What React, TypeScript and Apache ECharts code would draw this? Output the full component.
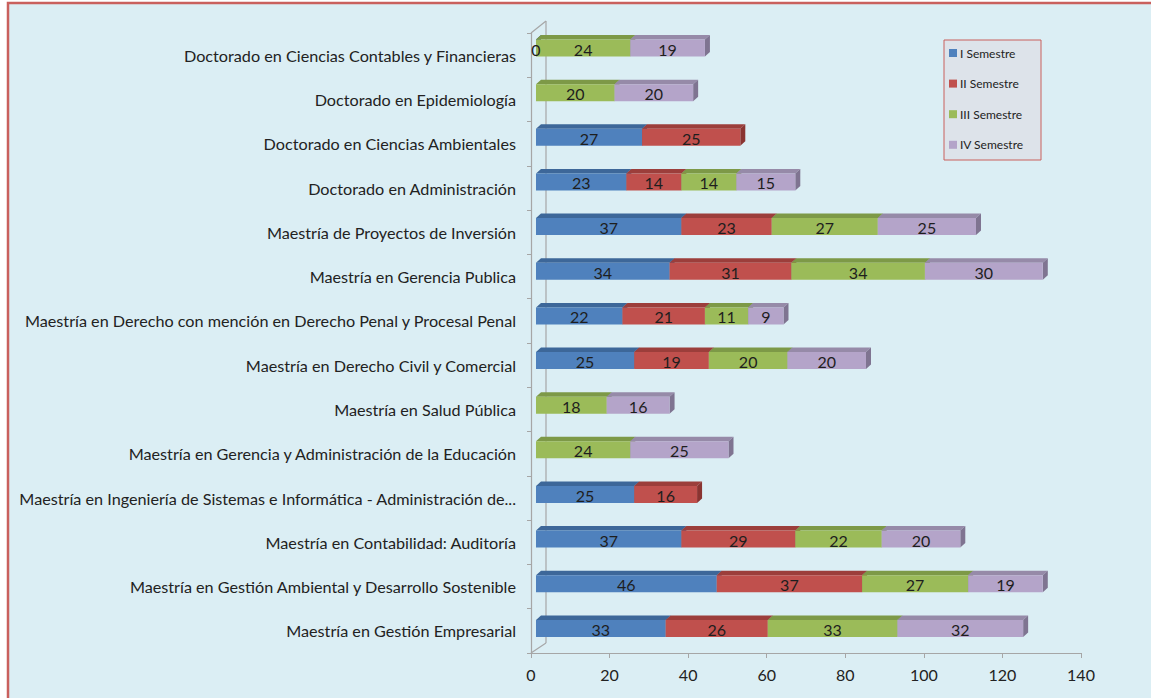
import React, { useEffect, useRef } from "react";
import * as echarts from "echarts";

const categories = [
  "Maestría en Gestión Empresarial",
  "Maestría en Gestión Ambiental y Desarrollo Sostenible",
  "Maestría en Contabilidad: Auditoría",
  "Maestría en Ingeniería de Sistemas e Informática - Administración de...",
  "Maestría en Gerencia y Administración de la Educación",
  "Maestría en Salud Pública",
  "Maestría en Derecho Civil y Comercial",
  "Maestría en Derecho con mención en Derecho Penal y Procesal Penal",
  "Maestría en Gerencia Publica",
  "Maestría de Proyectos de Inversión",
  "Doctorado en Administración",
  "Doctorado en Ciencias Ambientales",
  "Doctorado en Epidemiología",
  "Doctorado en Ciencias Contables y Financieras",
];

const seriesNames = ["I Semestre", "II Semestre", "III Semestre", "IV Semestre"];
const sem1 = [33, 46, 37, 25, null, null, 25, 22, 34, 37, 23, 27, null, 0];
const sem2 = [26, 37, 29, 16, null, null, 19, 21, 31, 23, 14, 25, null, null];
const sem3 = [33, 27, 22, null, 24, 18, 20, 11, 34, 27, 14, null, 20, 24];
const sem4 = [32, 19, 20, null, 25, 16, 20, 9, 30, 25, 15, null, 20, 19];
const xTicks = { min: 0, max: 140, interval: 20 };

const frontColors = ["#4f81bd", "#c0504d", "#9bbb59", "#b4a4c9"];
const topColors = ["#3d6799", "#9c3e3b", "#7d9947", "#968aa8"];
const sideColors = ["#34598a", "#8a3431", "#6d873c", "#7f7491"];

const FONT = "Lato, 'Open Sans', sans-serif";

export default function App() {
  const ref = useRef<HTMLDivElement>(null);

  useEffect(() => {
    if (!ref.current) return;
    const chart = echarts.init(ref.current, undefined, { renderer: "svg" });

    const allSems = [sem1, sem2, sem3, sem4];
    const base = categories.map(() => 0);
    const stacked = allSems.map((arr) => {
      const out: any[] = [];
      arr.forEach((v, i) => {
        if (v === null || v === undefined) return;
        const s = base[i];
        const e = s + v;
        base[i] = e;
        out.push([i, s, e, v]);
      });
      return out;
    });

    const DX = 5;
    const DY = 4.5;
    const H = 17;

    const makeRender = (si: number) => (params: any, api: any) => {
      const cat = api.value(0);
      const start = api.value(1);
      const end = api.value(2);
      const val = api.value(3);
      const p0 = api.coord([start, cat]);
      const p1 = api.coord([end, cat]);
      const x0 = p0[0];
      const x1 = p1[0];
      const top = p0[1] - H / 2;
      const bot = p0[1] + H / 2;
      return {
        type: "group",
        children: [
          {
            type: "polygon",
            shape: {
              points: [
                [x0, top],
                [x0 + DX, top - DY],
                [x1 + DX, top - DY],
                [x1, top],
              ],
            },
            style: { fill: topColors[si] },
          },
          {
            type: "polygon",
            shape: {
              points: [
                [x1, top],
                [x1 + DX, top - DY],
                [x1 + DX, bot - DY],
                [x1, bot],
              ],
            },
            style: { fill: sideColors[si] },
          },
          {
            type: "rect",
            shape: { x: x0, y: top, width: x1 - x0, height: H },
            style: { fill: frontColors[si] },
          },
          {
            type: "text",
            style: {
              text: String(val),
              x: (x0 + x1) / 2,
              y: (top + bot) / 2 + 1,
              align: "center",
              verticalAlign: "middle",
              fill: "#1e1e1e",
              font: `16px ${FONT}`,
            },
            z2: 10,
          },
        ],
      };
    };

    const lineStyle = { stroke: "#a6a6a6", lineWidth: 1.2 };

    chart.setOption({
      animation: false,
      textStyle: { fontFamily: FONT },
      grid: [
        { left: 531, top: 33, width: 550, height: 620, containLabel: false },
        { left: 536, top: 25.7, width: 550, height: 625, containLabel: false },
      ],
      xAxis: [
        {
          type: "value",
          gridIndex: 0,
          min: xTicks.min,
          max: xTicks.max,
          interval: xTicks.interval,
          axisLine: { show: true, lineStyle: { color: "#a6a6a6", width: 1.2 } },
          axisTick: { show: true, length: 5, lineStyle: { color: "#a6a6a6" } },
          splitLine: { show: false },
          axisLabel: { color: "#222", fontSize: 16, margin: 13, fontFamily: FONT },
        },
        {
          type: "value",
          gridIndex: 1,
          min: xTicks.min,
          max: xTicks.max,
          show: false,
        },
      ],
      yAxis: [
        {
          type: "category",
          gridIndex: 0,
          data: categories,
          axisLine: { show: true, lineStyle: { color: "#a6a6a6", width: 1.2 } },
          axisTick: { show: true, length: 4, lineStyle: { color: "#a6a6a6" } },
          axisLabel: { color: "#222", fontSize: 16.2, margin: 15, fontFamily: FONT },
        },
        {
          type: "category",
          gridIndex: 1,
          data: categories,
          show: false,
        },
      ],
      legend: {
        show: true,
        orient: "vertical",
        left: 944,
        top: 40,
        padding: [6, 6, 6, 5],
        itemWidth: 8,
        itemHeight: 8,
        itemGap: 16.6,
        icon: "rect",
        data: seriesNames,
        textStyle: { fontSize: 12, color: "#222", lineHeight: 14, fontFamily: FONT, padding: [0, 0, 0, -2] },
      },
      graphic: [
        {
          type: "rect",
          z: -100,
          silent: true,
          shape: { x: 8, y: 3, width: 1170, height: 730 },
          style: { fill: "#dbeef4", stroke: "#c9605d", lineWidth: 2.5 },
        },
        {
          type: "rect",
          z: -50,
          silent: true,
          shape: { x: 944, y: 40, width: 97, height: 120 },
          style: { fill: "#dde3ea", stroke: "#c9605d", lineWidth: 1 },
        },
        { type: "line", z: -40, shape: { x1: 546, y1: 21, x2: 546, y2: 643 }, style: lineStyle },
        { type: "line", z: -40, shape: { x1: 531, y1: 33, x2: 546, y2: 21 }, style: lineStyle },
        { type: "line", z: -40, shape: { x1: 531, y1: 653, x2: 546, y2: 643 }, style: lineStyle },
      ],
      series: stacked.map((data, si) => ({
        type: "custom",
        name: seriesNames[si],
        xAxisIndex: 1,
        yAxisIndex: 1,
        itemStyle: { color: frontColors[si] },
        encode: { x: [1, 2], y: 0 },
        data,
        renderItem: makeRender(si),
      })),
    });

    return () => chart.dispose();
  }, []);

  return (
    <div style={{ position: "absolute", left: 0, top: 0, width: 1151, height: 698, background: "#fff" }}>
      <div ref={ref} style={{ width: 1151, height: 698 }} />
    </div>
  );
}
